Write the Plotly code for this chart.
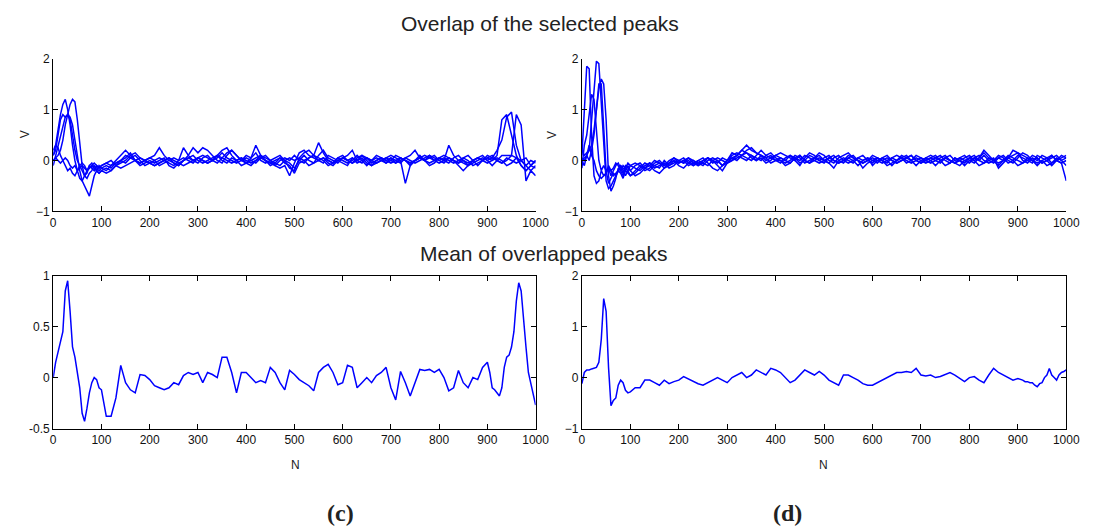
import plotly.graph_objects as go

W, H = 1098, 528

# x grids (sample positions N)
X_TOP = [0, 5, 10, 15, 20, 25, 30, 35, 40, 45, 50, 55, 60, 65, 70, 75, 80, 85, 90, 95, 100,
         110, 120, 130, 140, 150, 160, 170, 180, 190, 200,
         210, 220, 230, 240, 250, 260, 270, 280, 290, 300,
         310, 320, 330, 340, 350, 360, 370, 380, 390, 400,
         410, 420, 430, 440, 450, 460, 470, 480, 490, 500,
         510, 520, 530, 540, 550, 560, 570, 580, 590, 600,
         610, 620, 630, 640, 650, 660, 670, 680, 690, 700,
         710, 720, 730, 740, 750, 760, 770, 780, 790, 800,
         810, 820, 830, 840, 850, 860, 870, 880, 890, 900,
         910, 920, 930, 940, 950, 960, 970, 980, 990, 1000]

X_BOT = [0, 5, 10, 15, 20, 25, 30, 35, 40, 45, 50, 55, 60, 65, 70, 75, 80, 85, 90, 95, 100,
         110, 120, 130, 140, 150, 160, 170, 180, 190, 200,
         210, 220, 230, 240, 250, 260, 270, 280, 290, 300,
         310, 320, 330, 340, 350, 360, 370, 380, 390, 400,
         410, 420, 430, 440, 450, 460, 470, 480, 490, 500,
         510, 520, 530, 540, 550, 560, 570, 580, 590, 600,
         610, 620, 630, 640, 650, 660, 670, 680, 690, 700,
         710, 720, 730, 740, 750, 760, 770, 780, 790, 800,
         810, 820, 830, 840, 850, 860, 870, 880, 890, 900,
         905, 910, 915, 920, 925, 930, 935, 940, 945, 950,
         955, 960, 965, 970, 975, 980, 985, 990, 995, 1000]

# (c) overlapped peaks
C1 = [0.1, 0.3, 0.6, 0.9, 1.1, 1.2, 1.0, 0.7, 0.3, 0.0, -0.2, -0.35, -0.4, -0.3, -0.2, -0.15, -0.1, -0.15, -0.2, -0.1, -0.15,
      -0.2, -0.1, -0.05, 0.0, 0.1, 0.05, 0.0, -0.05, 0.0, 0.05,
      0.1, 0.25, 0.1, 0.0, -0.05, -0.1, 0.0, 0.05, 0.0, -0.05,
      0.05, 0.1, 0.0, -0.05, 0.05, 0.15, 0.2, 0.1, 0.0, -0.05,
      0.0, 0.05, 0.1, 0.0, -0.1, -0.05, 0.05, 0.0, -0.15, -0.2,
      0.05, 0.15, 0.2, 0.1, 0.35, 0.15, 0.0, -0.05, 0.05, 0.0,
      -0.05, 0.0, 0.1, 0.0, -0.1, 0.0, 0.05, 0.0, -0.05, 0.05,
      0.0, 0.05, 0.0, -0.1, 0.0, 0.05, 0.1, 0.05, 0.0, 0.05,
      0.0, 0.3, 0.1, 0.0, -0.05, -0.1, 0.0, 0.05, 0.0, -0.05,
      0.0, 0.1, 0.8, 0.9, 0.5, 0.1, -0.1, -0.2, -0.1, -0.15]
C2 = [0.0, 0.05, 0.1, 0.2, 0.4, 0.7, 0.9, 1.1, 1.2, 1.15, 0.8, 0.3, -0.1, -0.3, -0.35, -0.25, -0.2, -0.1, -0.15, -0.2, -0.15,
      -0.1, -0.15, -0.05, 0.0, -0.05, 0.05, 0.1, 0.0, -0.1, -0.05,
      0.0, -0.1, -0.05, 0.0, 0.05, 0.0, 0.25, 0.1, 0.0, 0.05,
      0.0, -0.05, 0.0, 0.05, 0.15, 0.05, 0.0, -0.05, 0.0, 0.1,
      0.05, 0.3, 0.1, 0.0, -0.05, 0.0, 0.05, -0.05, -0.1, -0.25,
      -0.05, 0.0, 0.05, 0.1, 0.0, 0.05, -0.05, -0.1, 0.0, 0.05,
      0.1, 0.2, 0.0, -0.05, 0.05, 0.0, -0.05, 0.0, 0.05, 0.1,
      0.05, 0.0, -0.45, -0.1, 0.0, 0.05, 0.0, 0.1, 0.05, 0.0,
      0.05, 0.0, -0.05, 0.0, 0.05, 0.1, 0.0, -0.1, 0.0, 0.1,
      0.05, 0.2, 0.4, 0.85, 0.95, 0.3, 0.0, -0.1, -0.2, -0.1]
C3 = [-0.1, 0.1, 0.3, 0.5, 0.7, 0.85, 0.9, 0.85, 0.7, 0.4, 0.1, -0.2, -0.4, -0.5, -0.6, -0.7, -0.5, -0.3, -0.2, -0.25, -0.2,
      -0.25, -0.2, -0.1, -0.05, 0.0, 0.1, 0.15, 0.05, 0.0, -0.05,
      -0.1, -0.05, 0.0, 0.05, -0.05, -0.1, 0.0, 0.1, 0.25, 0.15,
      0.25, 0.2, 0.1, 0.0, -0.05, 0.1, 0.2, 0.1, 0.0, 0.05,
      0.0, -0.05, 0.05, 0.1, 0.0, -0.1, -0.15, -0.1, -0.3, -0.05,
      0.15, 0.2, 0.1, 0.05, 0.0, -0.05, 0.1, 0.05, 0.0, -0.05,
      -0.1, 0.05, 0.0, 0.1, 0.05, -0.05, 0.0, 0.05, 0.0, -0.05,
      0.0, -0.05, 0.05, 0.1, 0.2, 0.05, 0.0, 0.05, 0.1, 0.0,
      -0.05, 0.05, 0.0, -0.1, -0.2, -0.1, 0.0, 0.05, 0.1, 0.0,
      -0.1, 0.0, 0.1, 0.1, 0.1, 0.9, 0.7, -0.4, -0.2, -0.3]
C4 = [0.2, 0.3, 0.25, 0.1, 0.0, -0.1, -0.2, -0.15, -0.25, -0.3, -0.2, -0.15, -0.1, -0.15, -0.2, -0.1, -0.05, -0.15, -0.2, -0.25, -0.2,
      -0.15, -0.2, -0.1, 0.0, 0.05, 0.15, 0.0, -0.1, -0.05, 0.0,
      -0.05, 0.0, 0.05, -0.1, -0.15, -0.05, 0.0, 0.05, 0.1, 0.0,
      -0.05, 0.0, 0.05, 0.1, 0.0, -0.05, 0.05, 0.0, -0.1, -0.05,
      0.05, 0.15, 0.0, -0.05, 0.0, 0.05, 0.1, 0.0, -0.05, -0.15,
      0.0, 0.1, 0.0, -0.05, 0.1, 0.2, 0.05, 0.0, -0.05, 0.05,
      0.0, -0.05, 0.05, 0.1, 0.0, -0.1, -0.05, 0.0, 0.05, 0.0,
      -0.05, 0.05, 0.0, -0.05, 0.0, 0.1, 0.0, -0.05, 0.0, 0.05,
      0.1, 0.05, 0.0, -0.05, 0.0, -0.1, -0.05, 0.0, 0.05, 0.0,
      0.05, 0.0, -0.05, 0.0, 0.1, 0.05, -0.1, -0.2, -0.1, 0.0]
C5 = [0.1, 0.2, 0.5, 0.8, 0.9, 0.85, 0.9, 0.8, 0.5, 0.2, 0.0, -0.1, -0.2, -0.3, -0.25, -0.1, -0.15, -0.2, -0.1, -0.15, -0.1,
      -0.05, -0.1, 0.0, 0.1, 0.2, 0.1, 0.0, -0.05, 0.0, 0.05,
      0.0, 0.05, 0.0, -0.05, -0.1, 0.0, 0.05, 0.0, -0.05, 0.05,
      0.1, 0.05, 0.0, 0.1, 0.2, 0.25, 0.1, 0.0, 0.05, -0.05,
      -0.1, 0.0, 0.05, 0.0, -0.05, -0.1, 0.0, 0.05, 0.0, 0.1,
      0.0, -0.05, 0.05, 0.1, 0.05, 0.0, -0.1, -0.05, 0.0, 0.05,
      0.0, 0.05, -0.05, 0.0, 0.05, 0.0, 0.1, 0.05, -0.05, 0.0,
      0.1, 0.05, 0.0, -0.05, 0.0, 0.05, 0.0, -0.1, -0.05, 0.05,
      0.0, -0.05, 0.05, 0.1, 0.0, -0.05, 0.0, 0.05, 0.0, 0.05,
      0.0, 0.05, 0.0, -0.1, -0.05, 0.05, 0.0, -0.1, 0.0, -0.05]
C6 = [0.0, 0.05, 0.0, -0.05, 0.0, 0.05, 0.0, -0.1, -0.15, -0.1, -0.2, -0.1, -0.05, -0.1, -0.2, -0.15, -0.1, -0.05, -0.1, -0.15, -0.1,
      -0.05, 0.0, -0.1, -0.15, -0.1, -0.05, 0.0, 0.05, 0.0, -0.05,
      -0.1, -0.05, 0.0, 0.05, 0.0, -0.05, -0.1, -0.05, 0.0, 0.05,
      0.0, -0.05, 0.0, 0.1, 0.05, 0.0, -0.05, 0.0, 0.05, 0.0,
      -0.05, 0.0, 0.1, 0.05, 0.0, -0.05, -0.1, 0.0, 0.05, 0.0,
      0.05, 0.0, -0.1, -0.05, 0.0, 0.05, 0.0, -0.05, 0.05, 0.1,
      0.0, -0.05, 0.0, 0.05, -0.05, -0.1, 0.0, 0.05, 0.0, 0.05,
      -0.05, 0.0, 0.05, 0.0, -0.05, 0.0, 0.05, 0.1, 0.0, -0.05,
      0.0, 0.05, 0.0, -0.05, 0.05, 0.0, -0.1, -0.05, 0.0, 0.05,
      0.1, 0.0, -0.05, 0.05, 0.0, -0.05, 0.0, 0.05, -0.1, 0.0]

# (d) overlapped peaks
D1 = [0.1, 0.9, 1.85, 1.8, 0.5, -0.3, -0.45, -0.4, -0.2, -0.3, -0.25, -0.15, -0.2, -0.3, -0.25, -0.2, -0.1, -0.15, -0.2, -0.25, -0.3,
      -0.2, -0.1, -0.15, -0.05, -0.1, -0.15, 0.0, -0.1, -0.05, 0.0,
      -0.05, 0.0, -0.1, -0.05, 0.0, 0.05, -0.05, 0.0, -0.1, 0.0,
      0.1, 0.15, 0.1, 0.2, 0.25, 0.15, 0.1, 0.0, 0.05, 0.1,
      0.05, 0.0, 0.1, 0.05, -0.05, 0.0, 0.1, 0.05, 0.0, -0.05,
      0.05, 0.1, 0.0, -0.05, 0.05, 0.0, -0.1, 0.0, 0.05, 0.0,
      -0.05, 0.05, 0.1, 0.0, -0.05, 0.0, 0.05, 0.1, 0.0, -0.05,
      0.05, 0.0, -0.1, 0.0, 0.05, 0.0, -0.05, 0.05, 0.1, 0.0,
      -0.05, 0.05, 0.15, 0.05, 0.0, -0.1, 0.0, 0.05, 0.0, 0.1,
      0.05, 0.0, -0.05, 0.1, 0.05, 0.0, -0.1, 0.0, 0.05, 0.1]
D2 = [0.0, 0.05, 0.1, 0.2, 0.8, 1.5, 1.95, 1.9, 1.2, 0.3, -0.4, -0.55, -0.5, -0.4, -0.3, -0.2, -0.25, -0.35, -0.2, -0.1, -0.2,
      -0.3, -0.25, -0.15, -0.2, -0.1, -0.05, -0.15, -0.1, 0.0, -0.1,
      -0.15, -0.05, 0.0, -0.1, -0.05, 0.05, 0.0, -0.1, -0.2, -0.05,
      0.05, 0.1, 0.2, 0.15, 0.1, 0.0, 0.05, -0.05, 0.0, 0.1,
      0.15, 0.1, 0.05, 0.0, 0.1, 0.0, -0.05, 0.05, 0.15, 0.1,
      0.0, -0.05, 0.05, 0.1, 0.15, 0.05, 0.0, -0.15, -0.05, 0.0,
      0.05, 0.0, -0.05, 0.05, 0.1, 0.05, -0.05, 0.0, 0.1, 0.05,
      0.0, 0.05, 0.1, 0.0, -0.1, -0.05, 0.05, 0.0, -0.05, 0.05,
      0.1, 0.0, -0.05, 0.0, 0.05, -0.15, -0.05, 0.05, 0.1, 0.15,
      0.1, 0.05, 0.0, -0.1, 0.0, 0.05, 0.1, 0.0, -0.05, -0.4]
D3 = [0.2, 0.1, 0.15, 0.2, 0.3, 0.6, 1.0, 1.4, 1.6, 1.5, 0.8, -0.3, -0.6, -0.5, -0.35, -0.15, -0.2, -0.1, -0.15, -0.2, -0.3,
      -0.25, -0.15, -0.05, -0.1, -0.2, -0.25, -0.15, -0.05, 0.0, -0.05,
      0.0, 0.05, -0.05, -0.1, 0.0, 0.05, 0.0, -0.05, 0.05, 0.0,
      0.15, 0.1, 0.2, 0.3, 0.2, 0.15, 0.1, 0.05, 0.1, 0.0,
      -0.05, 0.05, 0.1, 0.0, -0.1, 0.05, 0.15, 0.1, 0.0, 0.05,
      0.1, 0.0, -0.05, 0.0, 0.05, 0.1, 0.0, -0.05, 0.0, 0.05,
      0.0, -0.05, 0.0, 0.05, 0.0, 0.1, 0.05, 0.0, -0.1, 0.0,
      0.05, 0.1, 0.05, 0.0, 0.05, 0.0, -0.05, 0.0, 0.05, 0.1,
      0.0, 0.05, 0.2, 0.1, 0.0, -0.05, 0.0, 0.05, 0.2, 0.15,
      0.0, -0.05, 0.05, 0.0, 0.1, 0.05, -0.05, 0.0, 0.1, 0.05]
D4 = [-0.15, 0.3, 0.5, 0.9, 1.3, 1.2, 0.6, 0.0, -0.2, -0.1, -0.2, -0.15, -0.3, -0.2, -0.1, -0.05, -0.15, -0.25, -0.1, -0.15, -0.2,
      -0.1, -0.05, -0.15, -0.1, 0.0, -0.05, -0.1, 0.0, 0.05, -0.05,
      0.0, -0.1, -0.05, 0.0, -0.05, -0.1, 0.0, 0.05, 0.0, -0.05,
      0.0, 0.05, 0.1, 0.05, 0.0, 0.1, 0.2, 0.1, 0.05, 0.0,
      0.05, 0.0, -0.05, 0.05, 0.0, 0.1, 0.05, 0.0, -0.05, 0.0,
      -0.05, 0.05, 0.1, 0.0, -0.05, 0.0, 0.05, 0.0, 0.05, -0.1,
      0.0, 0.05, 0.0, -0.1, 0.0, 0.05, 0.1, 0.0, 0.05, 0.0,
      -0.05, 0.0, 0.05, 0.1, 0.0, -0.05, 0.05, 0.0, -0.1, 0.0,
      0.05, 0.1, 0.0, -0.05, 0.0, 0.05, 0.1, 0.0, -0.05, 0.05,
      0.15, 0.1, 0.0, 0.05, -0.05, 0.0, 0.05, 0.1, 0.0, -0.1]
D5 = [0.0, -0.1, 0.1, 0.3, 0.1, 0.0, -0.2, -0.3, -0.35, -0.3, -0.25, -0.1, -0.2, -0.15, -0.05, -0.1, -0.2, -0.3, -0.15, -0.05, -0.1,
      -0.15, -0.2, -0.1, -0.05, -0.15, -0.1, -0.05, -0.15, -0.1, 0.0,
      0.05, -0.05, -0.1, 0.0, 0.05, -0.05, -0.15, -0.2, -0.1, 0.0,
      0.05, 0.0, 0.1, 0.15, 0.05, 0.0, 0.1, 0.05, -0.05, 0.0,
      0.0, -0.1, -0.05, 0.05, 0.1, 0.0, -0.05, 0.0, 0.05, 0.0,
      -0.05, -0.15, 0.0, 0.05, 0.0, -0.05, 0.05, 0.1, 0.0, -0.05,
      0.05, 0.0, -0.1, -0.05, 0.0, 0.05, 0.0, -0.05, 0.0, 0.05,
      0.0, -0.05, 0.0, 0.05, 0.1, 0.0, -0.05, -0.1, 0.0, 0.05,
      0.0, -0.1, -0.05, 0.05, 0.0, 0.1, 0.05, -0.05, 0.0, -0.1,
      -0.05, 0.05, 0.0, -0.05, 0.0, -0.1, -0.05, 0.05, 0.0, 0.05]
D6 = [0.05, 0.0, 0.1, 0.0, 0.2, 0.5, 1.0, 1.5, 1.5, 0.5, -0.2, -0.45, -0.35, -0.25, -0.3, -0.2, -0.1, -0.2, -0.3, -0.2, -0.1,
      -0.05, -0.1, -0.2, -0.15, -0.05, 0.0, -0.1, -0.05, 0.05, 0.0,
      -0.05, 0.05, 0.0, -0.05, -0.1, 0.0, 0.05, 0.0, -0.1, -0.05,
      0.0, 0.1, 0.05, 0.0, 0.1, 0.05, 0.0, 0.1, 0.15, 0.05,
      0.0, -0.05, 0.0, 0.1, 0.05, -0.05, 0.0, 0.05, 0.1, 0.0,
      0.05, 0.0, -0.05, 0.0, 0.1, 0.05, 0.0, -0.05, 0.0, 0.1,
      0.05, 0.0, 0.05, 0.0, -0.05, 0.0, 0.05, 0.1, 0.0, -0.05,
      0.0, 0.05, 0.0, -0.05, 0.05, 0.1, 0.0, 0.05, 0.0, -0.05,
      0.05, 0.0, 0.1, 0.0, -0.05, 0.05, 0.0, 0.1, 0.05, 0.0,
      -0.05, 0.0, 0.1, 0.05, -0.05, 0.0, 0.1, 0.0, -0.05, 0.0]

# means
MEAN_C = [0.0, 0.15, 0.25, 0.35, 0.45, 0.85, 0.95, 0.65, 0.3, 0.2, 0.05, -0.1, -0.35, -0.43, -0.3, -0.15, -0.05, 0.0, -0.02, -0.1, -0.12,
          -0.38, -0.38, -0.2, 0.12, -0.05, -0.12, -0.15, 0.03, 0.02, -0.02,
          -0.08, -0.1, -0.12, -0.1, -0.05, -0.07, 0.02, 0.05, 0.03, 0.05,
          -0.05, 0.05, 0.03, 0.0, 0.2, 0.2, 0.05, -0.15, 0.05, 0.05,
          0.0, -0.05, -0.03, -0.05, 0.1, 0.05, -0.05, -0.12, 0.07, 0.03,
          -0.02, -0.05, -0.08, -0.13, 0.05, 0.1, 0.13, 0.05, -0.07, -0.05,
          0.12, 0.1, -0.1, -0.05, 0.0, -0.05, 0.02, 0.05, 0.1, -0.1,
          -0.22, 0.06, -0.05, -0.18, -0.05, 0.08, 0.07, 0.08, 0.05, 0.08,
          0.0, -0.13, -0.1, 0.07, -0.05, -0.1, 0.0, -0.02, 0.1, 0.15,
          0.05, -0.1, -0.12, -0.15, -0.18, -0.1, 0.1, 0.2, 0.22, 0.3,
          0.45, 0.75, 0.93, 0.85, 0.55, 0.3, 0.05, -0.05, -0.15, -0.27]
MEAN_D = [-0.12, 0.1, 0.15, 0.15, 0.17, 0.18, 0.2, 0.3, 0.75, 1.55, 1.3, 0.2, -0.55, -0.45, -0.4, -0.15, -0.05, -0.1, -0.25, -0.3, -0.28,
          -0.2, -0.2, -0.05, -0.05, -0.1, -0.15, -0.05, -0.12, -0.08, -0.05,
          0.02, -0.03, -0.08, -0.12, -0.15, -0.1, -0.05, 0.0, -0.05, -0.1,
          0.0, 0.05, 0.1, 0.0, 0.05, 0.15, 0.1, 0.05, 0.18, 0.15,
          0.1, 0.0, -0.1, -0.05, 0.05, 0.15, 0.1, 0.05, 0.12, 0.05,
          -0.05, -0.1, -0.15, 0.05, 0.05, 0.0, -0.05, -0.12, -0.15, -0.15,
          -0.1, -0.05, 0.0, 0.05, 0.1, 0.1, 0.12, 0.1, 0.18, 0.05,
          0.03, 0.05, 0.0, 0.02, 0.06, 0.1, 0.05, -0.02, -0.08, 0.0,
          0.02, -0.05, -0.1, 0.05, 0.18, 0.1, 0.05, 0.0, -0.05, -0.02,
          -0.03, -0.05, -0.08, -0.08, -0.1, -0.1, -0.15, -0.18, -0.12, -0.1,
          0.0, 0.05, 0.18, 0.05, 0.0, -0.05, 0.05, 0.1, 0.12, 0.15]

X_TICKS = [0, 100, 200, 300, 400, 500, 600, 700, 800, 900, 1000]
Y_TICKS_A = [-1, 0, 1, 2]
Y_TICKS_C = [-0.5, 0, 0.5, 1]
Y_TICK_TEXT_C = ["-0.5", "0", "0.5", "1"]

TITLE_TOP = "Overlap of the selected peaks"
TITLE_BOT = "Mean of overlapped peaks"

BLUE = "#0000ff"
TICKFONT = dict(family="Liberation Sans, Arial, sans-serif", size=12, color="#111")

def px_x(p):
    return p / W

def px_y(p):
    return 1 - p / H

XL = [px_x(51), px_x(541)]
XR = [px_x(588), px_x(1080)]
YT = [px_y(210), px_y(53)]
YB = [px_y(433), px_y(276)]

fig = go.Figure()
line = dict(color=BLUE, width=1.5)
for s in [C1, C2, C3, C4, C5, C6]:
    fig.add_trace(go.Scatter(x=X_TOP, y=s, mode="lines", line=line, xaxis="x", yaxis="y", showlegend=False))
for s in [D1, D2, D3, D4, D5, D6]:
    fig.add_trace(go.Scatter(x=X_TOP, y=s, mode="lines", line=line, xaxis="x2", yaxis="y2", showlegend=False))
fig.add_trace(go.Scatter(x=X_BOT, y=MEAN_C, mode="lines", line=line, xaxis="x3", yaxis="y3", showlegend=False))
fig.add_trace(go.Scatter(x=X_BOT, y=MEAN_D, mode="lines", line=line, xaxis="x4", yaxis="y4", showlegend=False))

def xax(dom, anchor, mirror):
    return dict(domain=dom, anchor=anchor, range=[0, 1000], tickvals=X_TICKS,
                ticks="inside", ticklen=5, tickcolor="black", showline=True, linecolor="black",
                linewidth=1, mirror=mirror, showgrid=False, zeroline=False, tickfont=TICKFONT)

def yax(dom, anchor, rng, vals, text, mirror):
    d = dict(domain=dom, anchor=anchor, range=rng, tickvals=vals,
             ticks="inside", ticklen=5, tickcolor="black", showline=True, linecolor="black",
             linewidth=1, mirror=mirror, showgrid=False, zeroline=False, tickfont=TICKFONT)
    if text is not None:
        d["ticktext"] = text
    return d

fig.update_layout(
    width=W, height=H, margin=dict(l=0, r=0, t=0, b=0),
    paper_bgcolor="white", plot_bgcolor="white",
    xaxis=xax(XL, "y", False), yaxis=yax(YT, "x", [-1, 2], Y_TICKS_A, None, False),
    xaxis2=xax(XR, "y2", False), yaxis2=yax(YT, "x2", [-1, 2], Y_TICKS_A, None, False),
    xaxis3=xax(XL, "y3", "ticks"), yaxis3=yax(YB, "x3", [-0.5, 1], Y_TICKS_C, Y_TICK_TEXT_C, "ticks"),
    xaxis4=xax(XR, "y4", "ticks"), yaxis4=yax(YB, "x4", [-1, 2], Y_TICKS_A, None, "ticks"),
)

SANS = "Liberation Sans, Arial, sans-serif"
ann = [
    dict(text=TITLE_TOP, x=px_x(545), y=px_y(17), size=21, font=SANS, angle=0),
    dict(text=TITLE_BOT, x=px_x(550), y=px_y(253), size=21, font=SANS, angle=0),
    dict(text="V", x=px_x(22), y=px_y(131), size=12, font=SANS, angle=-90),
    dict(text="V", x=px_x(557), y=px_y(131), size=12, font=SANS, angle=-90),
    dict(text="N", x=px_x(297), y=px_y(470), size=12, font=SANS, angle=0),
    dict(text="N", x=px_x(833), y=px_y(470), size=12, font=SANS, angle=0),
    dict(text="<b>(c)</b>", x=px_x(343), y=px_y(520), size=24, font="Liberation Serif, serif", angle=0),
    dict(text="<b>(d)</b>", x=px_x(797), y=px_y(520), size=24, font="Liberation Serif, serif", angle=0),
]
for a in ann:
    fig.add_annotation(text=a["text"], x=a["x"], y=a["y"], xref="paper", yref="paper",
                       xanchor="center", yanchor="middle", showarrow=False, textangle=a["angle"],
                       font=dict(family=a["font"], size=a["size"], color="#222"))

fig.write_html("out.html")
